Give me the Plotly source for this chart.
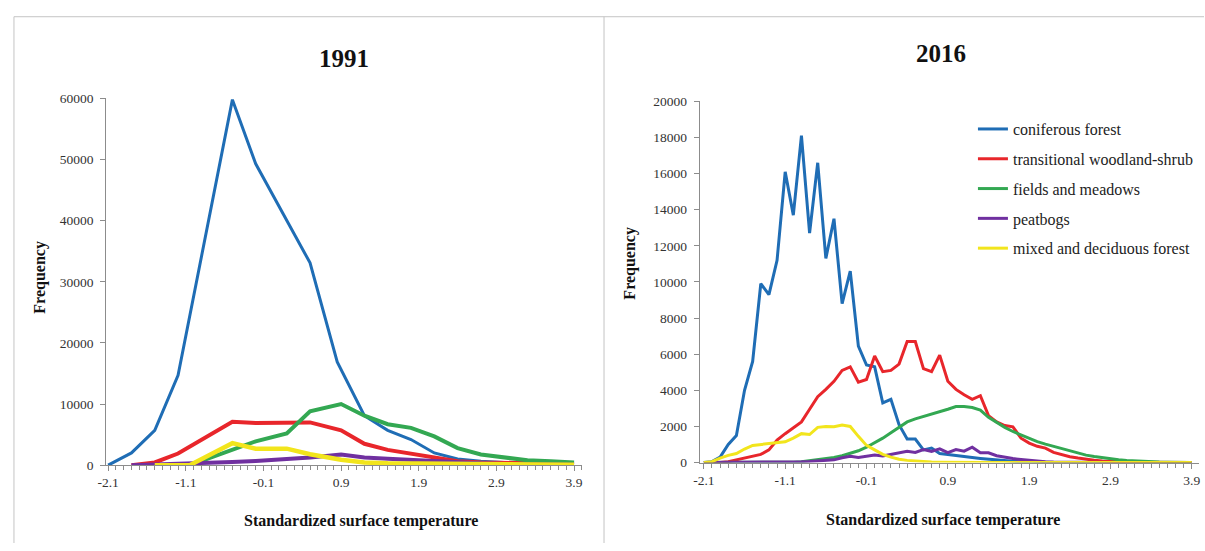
import numpy as np
import plotly.graph_objects as go

# ---------------- data ----------------
series_names = ["coniferous forest", "transitional woodland-shrub", "fields and meadows",
                "peatbogs", "mixed and deciduous forest"]
colors = ["#1F6DB5", "#E8262B", "#33A852", "#7030A0", "#F2E51C"]

# 1991 (sparse bins)
x91_conif = [-2.1, -1.8, -1.5, -1.2, -0.5, -0.2, 0.5, 0.85, 1.2, 1.5, 1.8, 2.1, 2.4, 2.7, 3.0, 3.3, 3.6, 3.9]
y91_conif = [0, 2000, 5700, 14700, 59800, 49300, 33100, 16900, 8100, 5700, 4200, 2000, 1000, 650, 450, 350, 300, 250]
x91_trans = [-1.8, -1.5, -1.2, -0.5, -0.2, 0.5, 0.9, 1.2, 1.5, 1.8, 2.1, 2.4, 2.7, 3.0, 3.3, 3.6, 3.9]
y91_trans = [0, 450, 1900, 7100, 6900, 7000, 5700, 3500, 2500, 1900, 1300, 650, 450, 350, 300, 250, 200]
x91_field = [-1.05, -0.5, -0.2, 0.2, 0.5, 0.9, 1.2, 1.5, 1.8, 2.1, 2.4, 2.7, 3.0, 3.3, 3.6, 3.9]
y91_field = [0, 2600, 3900, 5200, 8800, 10000, 8100, 6700, 6100, 4700, 2800, 1750, 1230, 800, 640, 430]
x91_peat = [-1.8, -1.5, -1.2, -0.5, -0.2, 0.2, 0.5, 0.9, 1.2, 1.5, 1.8, 2.1, 2.4, 2.7, 3.0, 3.3, 3.6, 3.9]
y91_peat = [0, 100, 200, 500, 700, 1000, 1250, 1750, 1250, 1050, 850, 600, 400, 300, 200, 150, 100, 50]
x91_mixed = [-1.5, -1.05, -0.5, -0.2, 0.2, 0.5, 0.9, 1.2, 1.5, 1.8, 2.1, 2.4, 2.7, 3.0, 3.3, 3.6, 3.9]
y91_mixed = [0, 0, 3600, 2700, 2700, 1800, 900, 450, 300, 250, 200, 150, 120, 100, 80, 60, 50]

# 2016 (bins of 0.1 from -2.1 to 3.9)
x16 = np.round(np.arange(-2.1, 3.95, 0.1), 1)
y16_conif = [0, 50, 300, 1000, 1500, 4000, 5600, 9900, 9300, 11200,
             16100, 13700, 18100, 12700, 16600, 11300, 13500, 8800, 10600, 6450,
             5400, 5300, 3300, 3500, 2100, 1300, 1300, 700, 800, 500,
             450, 380, 330, 280, 230, 180, 130, 100, 70, 50,
             30, 20, 10, 0, 0, 0, 0, 0, 0, 0,
             0, 0, 0, 0, 0, 0, 0, 0, 0, 0, 0]
y16_trans = [0, 0, 0, 50, 150, 250, 350, 450, 700, 1250,
             1600, 1950, 2250, 2950, 3650, 4050, 4500, 5100, 5300, 4450,
             4600, 5900, 5030, 5100, 5450, 6700, 6700, 5200, 5030, 5950,
             4500, 4050, 3750, 3500, 3700, 2600, 2250, 2050, 1980, 1350,
             1080, 900, 800, 560, 420, 320, 250, 180, 130, 90,
             60, 40, 25, 15, 10, 5, 0, 0, 0, 0, 0]
y16_field = [0, 0, 0, 0, 0, 0, 0, 0, 0, 0,
             10, 20, 50, 100, 150, 200, 280, 380, 500, 650,
             850, 1080, 1350, 1650, 1950, 2250, 2420, 2550, 2650, 2800,
             2950, 3100, 3100, 3050, 2900, 2500, 2200, 1950, 1720, 1520,
             1320, 1160, 1020, 890, 760, 630, 510, 410, 330, 260,
             200, 150, 110, 80, 60, 40, 30, 20, 10, 5, 0]
y16_peat = [0, 0, 0, 0, 0, 0, 0, 0, 0, 0,
            0, 20, 40, 60, 80, 100, 150, 270, 350, 280,
            360, 420, 360, 450, 520, 620, 560, 720, 620, 760,
            550, 720, 630, 850, 540, 540, 380, 280, 220, 170,
            120, 80, 50, 30, 20, 10, 0, 0, 0, 0,
            0, 0, 0, 0, 0, 0, 0, 0, 0, 0, 0]
y16_mixed = [0, 50, 250, 400, 500, 750, 950, 1000, 1050, 1100,
             1150, 1350, 1600, 1550, 1950, 2000, 1980, 2080, 2000, 1450,
             950, 700, 450, 300, 180, 120, 80, 50, 30, 20,
             10, 0, 0, 0, 0, 0, 0, 0, 0, 0,
             0, 0, 0, 0, 0, 0, 0, 0, 0, 0,
             0, 0, 0, 0, 0, 0, 0, 0, 0, 0, 0]

x_tickvals = [-2.1, -1.1, -0.1, 0.9, 1.9, 2.9, 3.9]
x_ticktext = ["-2.1", "-1.1", "-0.1", "0.9", "1.9", "2.9", "3.9"]
y91_ticks = [0, 10000, 20000, 30000, 40000, 50000, 60000]
y16_ticks = [0, 2000, 4000, 6000, 8000, 10000, 12000, 14000, 16000, 18000, 20000]

titles = ["1991", "2016"]
x_title = "Standardized surface temperature"
y_title = "Frequency"

# ---------------- figure ----------------
W, H = 1205, 551
FONT = "Liberation Serif, Times New Roman, serif"
AXC = "#8c8c8c"

def fx(p):
    return p / W

def fy(p):
    return 1 - p / H

fig = go.Figure()

data91 = [(x91_conif, y91_conif), (x91_trans, y91_trans), (x91_field, y91_field),
          (x91_peat, y91_peat), (x91_mixed, y91_mixed)]
widths91 = [3, 4, 4, 4, 4.5]
for (xs, ys), name, c, w in zip(data91, series_names, colors, widths91):
    fig.add_trace(go.Scatter(x=xs, y=ys, mode="lines", name=name, showlegend=False,
                             line=dict(color=c, width=w), xaxis="x", yaxis="y"))

data16 = [y16_conif, y16_trans, y16_field, y16_peat, y16_mixed]
for ys, name, c in zip(data16, series_names, colors):
    fig.add_trace(go.Scatter(x=x16, y=ys, mode="lines", name=name, legendgroup=name,
                             line=dict(color=c, width=3), xaxis="x2", yaxis="y2"))

common_x = dict(showline=True, linecolor=AXC, linewidth=1, ticks="outside", ticklen=5,
                tickcolor=AXC, showgrid=False, zeroline=False,
                tickvals=x_tickvals, ticktext=x_ticktext,
                tickfont=dict(family=FONT, size=13.5, color="#333333"),
                minor=dict(ticks="outside", ticklen=4, tickcolor=AXC, dtick=0.1, tick0=-2.1,
                           showgrid=False))
common_y = dict(showline=True, linecolor=AXC, linewidth=1, ticks="outside", ticklen=5,
                tickcolor=AXC, showgrid=False, zeroline=False, tickformat="d",
                tickfont=dict(family=FONT, size=13.5, color="#333333"),
                ticklabelstandoff=4)

fig.update_layout(
    width=W, height=H,
    margin=dict(l=0, r=0, t=0, b=0),
    paper_bgcolor="white", plot_bgcolor="white",
    xaxis=dict(domain=[fx(98), fx(578)], range=[-2.1255, 4.005], anchor="y", **common_x),
    yaxis=dict(domain=[fy(471), fy(94)], range=[0, 60000], anchor="x", tickvals=y91_ticks, **common_y),
    xaxis2=dict(domain=[fx(696.5), fx(1200)], range=[-2.151, 3.989], anchor="y2", **common_x),
    yaxis2=dict(domain=[fy(468.3), fy(97)], range=[0, 20000], anchor="x2", tickvals=y16_ticks, **common_y),
    legend=dict(x=fx(972), y=fy(108), xanchor="left", yanchor="top",
                font=dict(family=FONT, size=16, color="#222222"),
                bgcolor="rgba(0,0,0,0)", tracegroupgap=6),
    showlegend=True,
)

ann = []
for t, (cx, cy) in zip(titles, [(338, 53), (940, 48)]):
    ann.append(dict(text="<b>%s</b>" % t, x=fx(cx), y=fy(cy), xref="paper", yref="paper",
                    showarrow=False, font=dict(family=FONT, size=25, color="#111111"),
                    xanchor="center", yanchor="middle"))
for cx, cy in [(355, 528), (942, 527)]:
    ann.append(dict(text="<b>%s</b>" % x_title, x=fx(cx), y=fy(cy), xref="paper", yref="paper",
                    showarrow=False, font=dict(family=FONT, size=16, color="#111111"),
                    xanchor="center", yanchor="middle"))
for cx, cy in [(31.5, 278), (626, 263)]:
    ann.append(dict(text="<b>%s</b>" % y_title, x=fx(cx), y=fy(cy), xref="paper", yref="paper",
                    showarrow=False, textangle=-90, font=dict(family=FONT, size=16, color="#111111"),
                    xanchor="center", yanchor="middle"))
fig.update_layout(annotations=ann)

# panel frame lines
FR = "#c4c4c4"
fig.update_layout(shapes=[
    dict(type="line", xref="paper", yref="paper", x0=fx(5), x1=1, y0=fy(10), y1=fy(10),
         line=dict(color=FR, width=1)),
    dict(type="line", xref="paper", yref="paper", x0=fx(5), x1=fx(5), y0=fy(10), y1=0,
         line=dict(color=FR, width=1)),
    dict(type="line", xref="paper", yref="paper", x0=fx(600), x1=fx(600), y0=fy(10), y1=0,
         line=dict(color=FR, width=1)),
])

fig.write_html("out.html")
